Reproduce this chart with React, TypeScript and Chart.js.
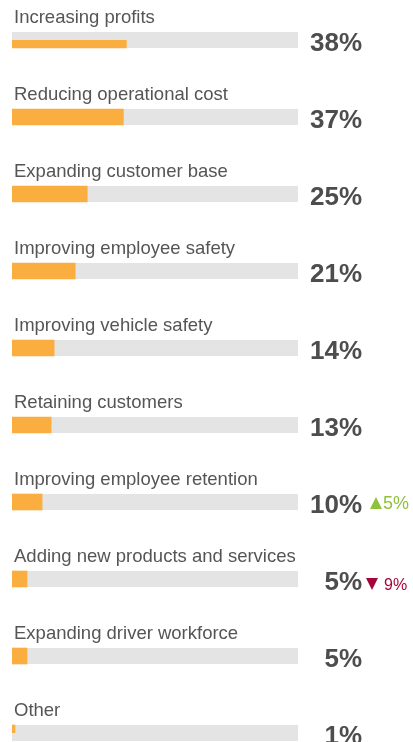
import React, { useEffect, useRef } from "react";
import { Chart, registerables } from "chart.js";

Chart.register(...registerables);

const categories = [
  "Increasing profits",
  "Reducing operational cost",
  "Expanding customer base",
  "Improving employee safety",
  "Improving vehicle safety",
  "Retaining customers",
  "Improving employee retention",
  "Adding new products and services",
  "Expanding driver workforce",
  "Other",
];
const values = [38, 37, 25, 21, 14, 13, 10, 5, 5, 1];
const deltas: (number | null)[] = [null, null, null, null, null, null, 5, -9, null, null];

const FONT = "'Liberation Sans', Arial, Helvetica, sans-serif";
const BAR_COLOR = "#fbae40";
const TRACK_COLOR = "#e4e4e4";
const LABEL_COLOR = "#555555";
const VALUE_COLOR = "#4d4d4d";
const UP_COLOR = "#8fc23a";
const DOWN_COLOR = "#a5043c";

const overlayPlugin = {
  id: "overlay",
  beforeDatasetsDraw(chart: any) {
    const { ctx, chartArea } = chart;
    const meta = chart.getDatasetMeta(0);
    ctx.save();
    ctx.fillStyle = TRACK_COLOR;
    meta.data.forEach((bar: any) => {
      const h = bar.height;
      ctx.fillRect(chartArea.left, bar.y - h / 2, chartArea.right - chartArea.left, h);
    });
    ctx.restore();
  },
  afterDatasetsDraw(chart: any) {
    const { ctx, chartArea } = chart;
    const meta = chart.getDatasetMeta(0);
    ctx.save();
    meta.data.forEach((bar: any, i: number) => {
      const cy = bar.y;
      // category label
      ctx.font = `18.5px ${FONT}`;
      ctx.fillStyle = LABEL_COLOR;
      ctx.textAlign = "left";
      ctx.textBaseline = "alphabetic";
      ctx.fillText(categories[i], chartArea.left + 2, cy - 17);
      // value
      ctx.font = `bold 26px ${FONT}`;
      ctx.fillStyle = VALUE_COLOR;
      ctx.textAlign = "right";
      const vx = chartArea.right + 64;
      ctx.fillText(`${values[i]}%`, vx, cy + 11);
      // delta
      const d = deltas[i];
      if (d !== null && d !== undefined) {
        ctx.textAlign = "left";
        if (d > 0) {
          ctx.font = `18px ${FONT}`;
          ctx.fillStyle = UP_COLOR;
          const tx = vx + 8;
          const base = cy + 7;
          ctx.beginPath();
          ctx.moveTo(tx, base);
          ctx.lineTo(tx + 12, base);
          ctx.lineTo(tx + 6, base - 12);
          ctx.closePath();
          ctx.fill();
          ctx.fillText(`${Math.abs(d)}%`, tx + 13, base);
        } else {
          ctx.font = `16px ${FONT}`;
          ctx.fillStyle = DOWN_COLOR;
          const tx = vx + 4;
          const base = cy + 11;
          ctx.beginPath();
          ctx.moveTo(tx, base - 12);
          ctx.lineTo(tx + 12, base - 12);
          ctx.lineTo(tx + 6, base);
          ctx.closePath();
          ctx.fill();
          ctx.fillText(`${Math.abs(d)}%`, tx + 18, base);
        }
      }
    });
    ctx.restore();
  },
};

export default function App() {
  const ref = useRef<HTMLCanvasElement | null>(null);
  useEffect(() => {
    document.body.style.margin = "0";
    const canvas = ref.current;
    if (!canvas) return;
    const chart = new Chart(canvas, {
      type: "bar",
      data: {
        labels: categories,
        datasets: [
          {
            data: values,
            backgroundColor: BAR_COLOR,
            barThickness: 16,
            borderWidth: 0,
          },
        ],
      },
      options: {
        indexAxis: "y",
        responsive: false,
        animation: false,
        layout: { padding: { top: 40, bottom: 9, left: 12, right: 115 } },
        plugins: { legend: { display: false }, tooltip: { enabled: false } },
        scales: {
          x: { display: false, min: 0, max: 95 },
          y: { display: false, offset: false },
        },
      },
      plugins: [overlayPlugin],
    } as any);
    return () => chart.destroy();
  }, []);
  return <canvas ref={ref} width={413} height={742} style={{ display: "block" }} />;
}
